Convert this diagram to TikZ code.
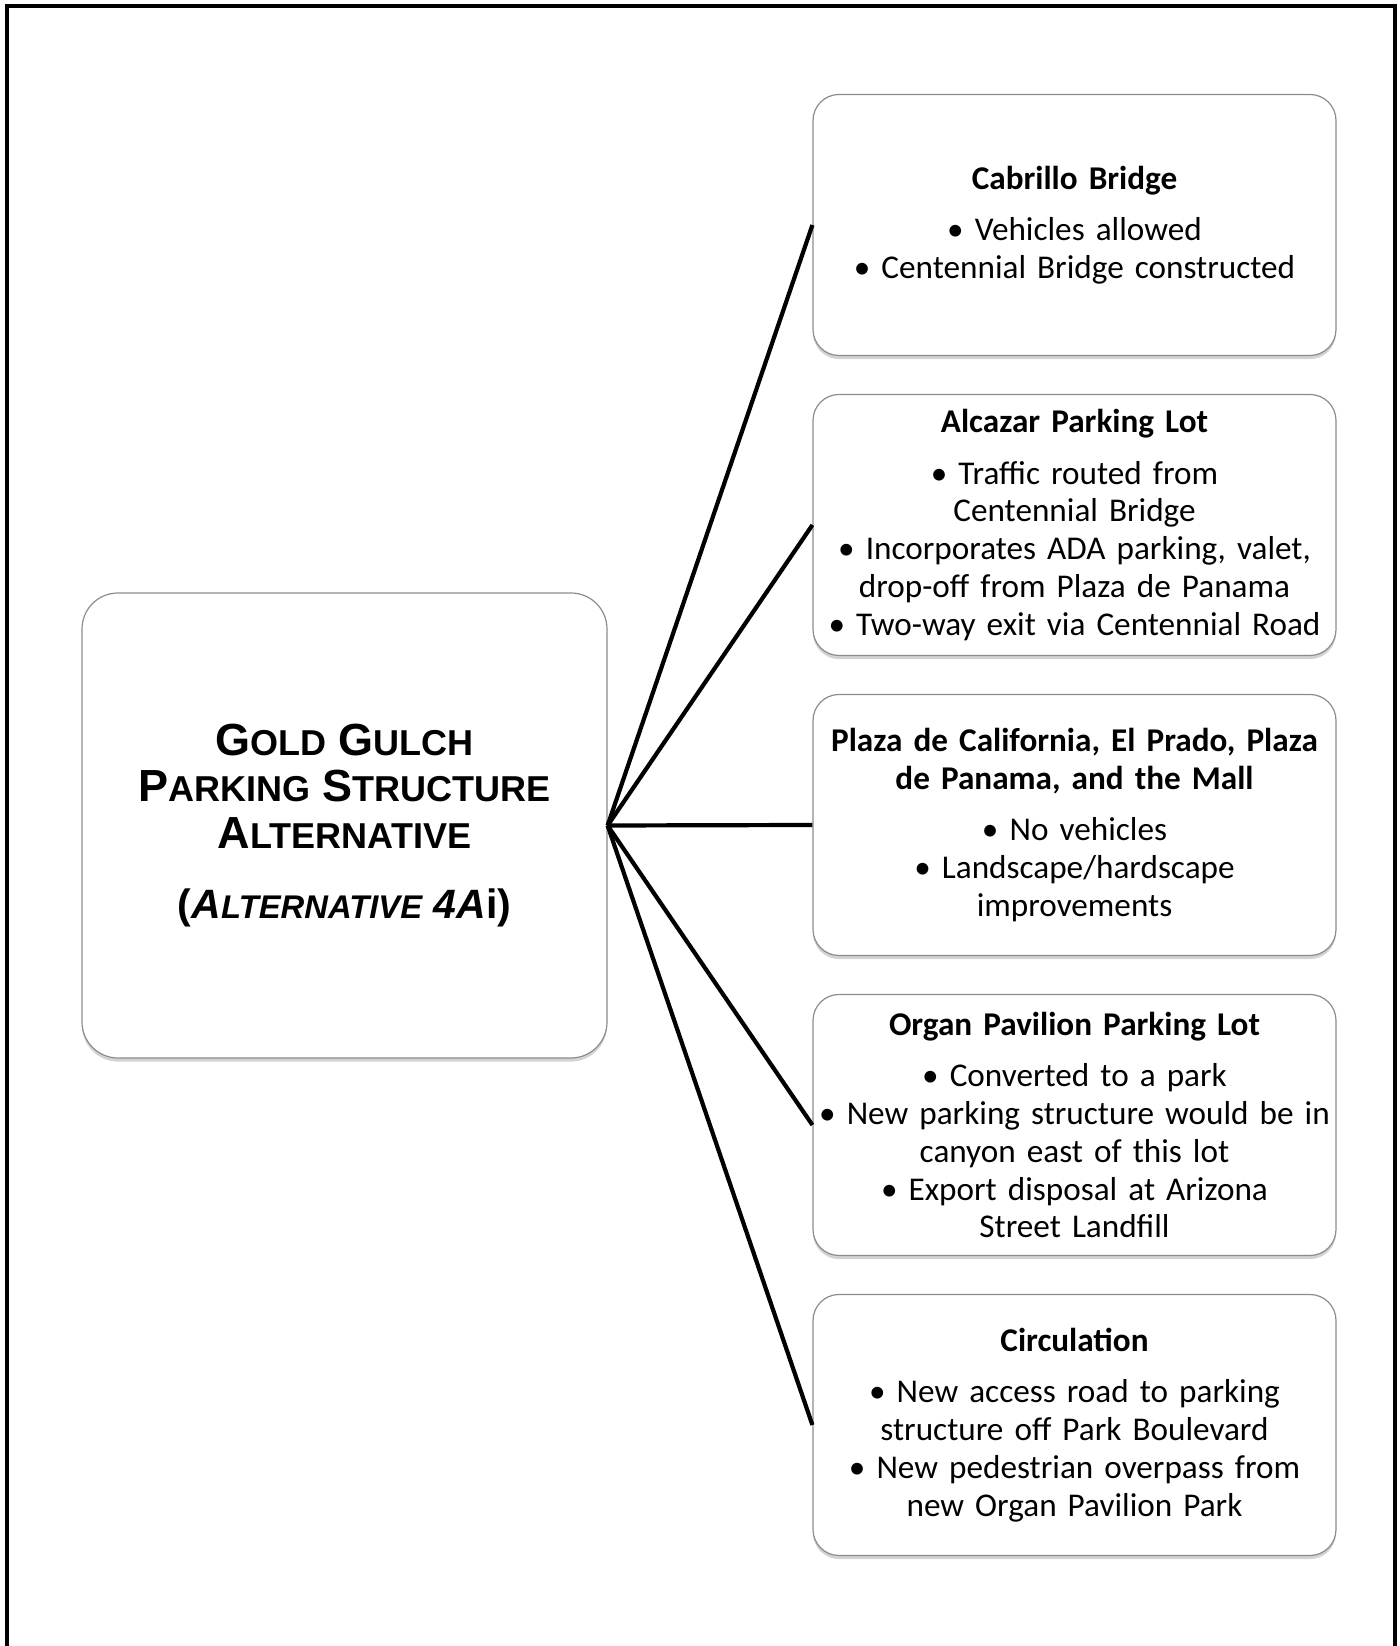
\documentclass[tikz,border=0pt]{standalone}
\usepackage{fontspec}
\setmainfont{Carlito}
\newfontfamily\arialfont{Liberation Sans}
\usetikzlibrary{shadows}
\newcommand\smallcap[1]{{\fontsize{18pt}{18pt}\selectfont #1}}
\newcommand\smallercap[1]{{\fontsize{16.4pt}{16.4pt}\selectfont #1}}

\begin{document}
\begin{tikzpicture}[x=0.5pt,y=0.5pt,
  card/.style={draw=black!45, line width=0.6pt, fill=white, rounded corners=13pt,
    drop shadow={shadow xshift=0pt,shadow yshift=-1.8pt,opacity=0.35}},
  info/.style={card, minimum width=261.5pt, minimum height=130.5pt, text width=256pt,
    align=center, inner sep=0pt, font=\fontsize{16.6pt}{18.9pt}\selectfont},
  spoke/.style={line width=2.1pt}]
  \useasboundingbox (0,0) rectangle (1400,1646);
  \draw[line width=1.6pt] (7,0) -- (7,1640) -- (1395,1640) -- (1395,0);

  \node[card, minimum width=262.5pt, minimum height=232.5pt, rounded corners=18pt,
    align=center, font=\arialfont\bfseries\fontsize{22.5pt}{23.4pt}\selectfont]
    (goldgulch) at (344.5,820.5)
    {G\smallcap{OLD} G\smallcap{ULCH}\\ P\smallcap{ARKING} S\smallcap{TRUCTURE}\\
     A\smallcap{LTERNATIVE}\\[11.6pt]
     {\fontsize{20.5pt}{23.4pt}\selectfont(\textit{A\smallercap{LTERNATIVE} 4A}i)}};

  \node[info] (cabrillo) at (1074.5,1421) {\textbf{Cabrillo Bridge}\\[6.8pt]
    • Vehicles allowed\\ • Centennial Bridge constructed};
  \node[info] (alcazar) at (1074.5,1121) {\textbf{Alcazar Parking Lot}\\[6.8pt]
    • Traffic routed from\\ Centennial Bridge\\ • Incorporates ADA parking, valet,\\
    drop-off from Plaza de Panama\\ • Two-way exit via Centennial Road};
  \node[info] (prado) at (1074.5,821) {\textbf{Plaza de California, El Prado, Plaza}\\
    \textbf{de Panama, and the Mall}\\[6.8pt]
    • No vehicles\\ • Landscape/hardscape\\ improvements};
  \node[info] (organ) at (1074.5,521) {\textbf{Organ Pavilion Parking Lot}\\[6.8pt]
    • Converted to a park\\ • New parking structure would be in\\ canyon east of this lot\\
    • Export disposal at Arizona\\ Street Landfill};
  \node[info] (circulation) at (1074.5,221) {\textbf{Circulation}\\[6.8pt]
    • New access road to parking\\ structure off Park Boulevard\\
    • New pedestrian overpass from\\ new Organ Pavilion Park};

  \draw[spoke] (goldgulch.east) -- (cabrillo.west);
  \draw[spoke] (goldgulch.east) -- (alcazar.west);
  \draw[spoke] (goldgulch.east) -- (prado.west);
  \draw[spoke] (goldgulch.east) -- (organ.west);
  \draw[spoke] (goldgulch.east) -- (circulation.west);
\end{tikzpicture}
\end{document}
